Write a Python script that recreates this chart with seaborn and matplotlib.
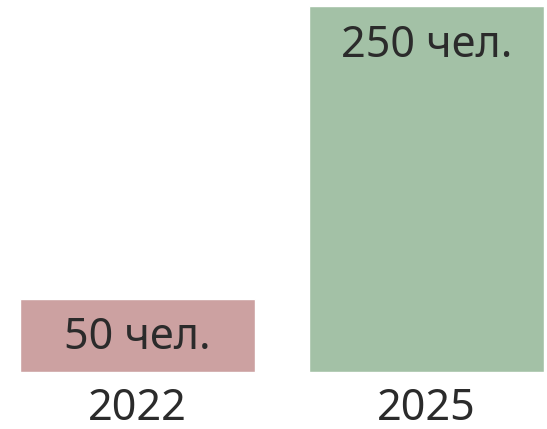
import matplotlib
matplotlib.use("Agg")
import matplotlib.pyplot as plt
import seaborn as sns

years = ["2022", "2025"]
people = [50, 250]
labels = ["50 чел.", "250 чел."]
bar_colors = ["#cca1a1", "#a3c1a6"]
text_color = "#2b2b2b"

sns.set_style("white")
plt.rcParams['font.family'] = ['Noto Sans', 'DejaVu Sans']

fig = plt.figure(figsize=(5.47, 4.29), dpi=100)
ax = fig.add_axes([20/547, 57/429, 524/547, 366/429])

sns.barplot(x=years, y=people, hue=years, palette=bar_colors,
            width=0.813, legend=False, saturation=1, ax=ax)

for i, (v, lab) in enumerate(zip(people, labels)):
  ax.annotate(lab, (i, v), xytext=(0, -28.5), textcoords="offset points",
              ha="center", va="center", fontsize=31, fontweight="light",
              color=text_color)

ax.set_xlim(-0.4065, 1.4065)
ax.set_ylim(0, 250)
ax.set_yticks([])
ax.tick_params(axis="x", length=0, pad=11, labelsize=31, labelcolor=text_color)
for t in ax.get_xticklabels():
  t.set_fontweight("light")
ax.set_xlabel("")
ax.set_ylabel("")
sns.despine(ax=ax, left=True, bottom=True)

plt.savefig("out.png", dpi=100)
